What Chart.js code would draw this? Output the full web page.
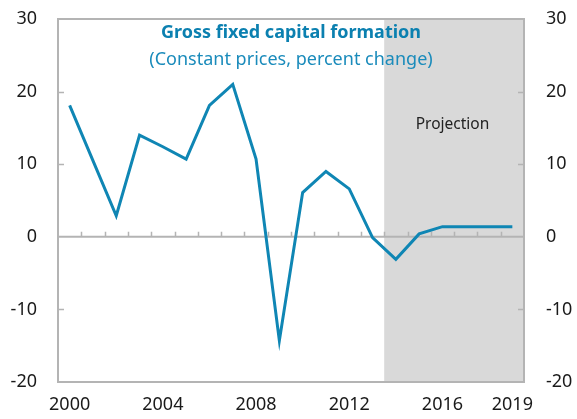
<!DOCTYPE html>
<html>
<head>
<meta charset="utf-8">
<script src="https://cdn.jsdelivr.net/npm/chart.js@4"></script>
<style>
  html, body { margin: 0; padding: 0; background: #fff; }
  #wrap { width: 577px; height: 419px; }
</style>
</head>
<body>
<div id="wrap"><canvas id="gfcfChart" width="577" height="419"></canvas></div>
<script>
// Years on the category axis
const years = ['2000', '2001', '2002', '2003', '2004', '2005', '2006', '2007', '2008', '2009',
               '2010', '2011', '2012', '2013', '2014', '2015', '2016', '2017', '2018', '2019'];
// Gross fixed capital formation, percent change
const gfcfGrowth = [18.1, 10.5, 2.9, 14.0, 12.4, 10.7, 18.1, 21.0, 10.7, -14.3,
                    6.1, 9.0, 6.6, -0.1, -3.1, 0.4, 1.4, 1.4, 1.4, 1.4];
// Which year labels are shown under the axis
const shownYears = ['2000', '2004', '2008', '2012', '2016', '2019'];
// First projected year
const projectionStart = '2014';

const titleText = 'Gross fixed capital formation';
const subtitleText = '(Constant prices, percent change)';
const projectionText = 'Projection';

const axisGray = '#b4b4b4';
const fontFamily = '"Noto Sans", "Open Sans", sans-serif';

// Draws the projection shade, frame, zero line and inside tick marks
const framePlugin = {
    id: 'frame',
    beforeDatasetsDraw(chart) {
        const { ctx, chartArea: a, scales } = chart;
        const x = scales.x, y = scales.y;
        const idx = years.indexOf(projectionStart);
        const shadeLeft = (x.getPixelForValue(idx - 1) + x.getPixelForValue(idx)) / 2;

        ctx.save();
        ctx.fillStyle = '#d9d9d9';
        ctx.fillRect(shadeLeft, a.top, a.right - shadeLeft, a.bottom - a.top);

        ctx.strokeStyle = axisGray;
        ctx.lineWidth = 2;
        ctx.strokeRect(a.left, a.top, a.right - a.left, a.bottom - a.top);

        // zero line with small ticks between categories
        const y0 = y.getPixelForValue(0);
        ctx.beginPath();
        ctx.moveTo(a.left, y0);
        ctx.lineTo(a.right, y0);
        ctx.stroke();
        ctx.lineWidth = 1.5;
        ctx.beginPath();
        for (let i = 0; i < years.length - 1; i++) {
            const px = Math.round((x.getPixelForValue(i) + x.getPixelForValue(i + 1)) / 2) + 0.5;
            ctx.moveTo(px, y0);
            ctx.lineTo(px, y0 - 5);
        }
        // y ticks, drawn inside the frame on both sides
        [20, 10, -10].forEach(v => {
            const py = Math.round(y.getPixelForValue(v)) + 0.5;
            ctx.moveTo(a.left, py);
            ctx.lineTo(a.left + 6, py);
            ctx.moveTo(a.right, py);
            ctx.lineTo(a.right - 6, py);
        });
        ctx.stroke();
        ctx.restore();
    },
    afterDatasetsDraw(chart) {
        const { ctx, chartArea: a, scales } = chart;
        const cx = (a.left + a.right) / 2;
        ctx.save();
        ctx.textAlign = 'center';
        ctx.textBaseline = 'middle';
        ctx.fillStyle = '#0b80b0';
        ctx.font = 'bold 18px ' + fontFamily;
        ctx.fillText(titleText, cx, a.top + 14);
        ctx.fillStyle = '#1a8bbb';
        ctx.font = '18px ' + fontFamily;
        ctx.fillText(subtitleText, cx, a.top + 41);

        ctx.fillStyle = '#222';
        ctx.font = '15.5px ' + fontFamily;
        ctx.fillText(projectionText, scales.x.getPixelForValue(years.indexOf('2016')) + 10, 125);
        ctx.restore();
    }
};

// let the top/bottom y labels hang over the frame instead of shrinking it
function fitY(width) {
    return scale => {
        scale.width = width;
        scale.paddingTop = 0;
        scale.paddingBottom = 0;
    };
}

const ctx = document.getElementById('gfcfChart').getContext('2d');
new Chart(ctx, {
    type: 'line',
    data: {
        labels: years,
        datasets: [{
            data: gfcfGrowth,
            borderColor: '#0f86b4',
            borderWidth: 3,
            pointRadius: 0,
            tension: 0,
            yAxisID: 'y'
        }]
    },
    options: {
        responsive: false,
        animation: false,
        devicePixelRatio: 1,
        layout: { padding: { top: 19, left: 0, right: 0, bottom: 0 } },
        plugins: {
            legend: { display: false },
            tooltip: { enabled: false }
        },
        scales: {
            x: {
                type: 'category',
                offset: true,
                grid: { display: false, drawTicks: false },
                border: { display: false },
                ticks: {
                    autoSkip: false,
                    maxRotation: 0,
                    padding: 12,
                    color: '#1a1a1a',
                    font: { family: fontFamily, size: 18 },
                    callback: function(value) {
                        const label = this.getLabelForValue(value);
                        return shownYears.includes(label) ? label : '';
                    }
                },
                afterFit: scale => { scale.height = 37; }
            },
            y: {
                position: 'left',
                min: -20,
                max: 30,
                grid: { display: false, drawTicks: false },
                border: { display: false },
                ticks: {
                    stepSize: 10,
                    padding: 21,
                    color: '#1a1a1a',
                    font: { family: fontFamily, size: 18 }
                },
                afterFit: fitY(58)
            },
            y2: {
                position: 'right',
                min: -20,
                max: 30,
                grid: { display: false, drawTicks: false },
                border: { display: false },
                ticks: {
                    stepSize: 10,
                    padding: 22,
                    color: '#1a1a1a',
                    font: { family: fontFamily, size: 18 }
                },
                afterFit: fitY(53)
            }
        }
    },
    plugins: [framePlugin]
});
</script>
</body>
</html>
